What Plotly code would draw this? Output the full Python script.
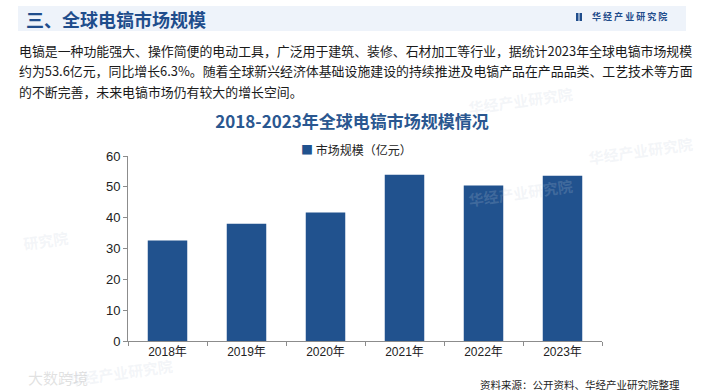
import plotly.graph_objects as go

years = ["2018年", "2019年", "2020年", "2021年", "2022年", "2023年"]
market_size = [32.6, 38.0, 41.7, 53.9, 50.4, 53.6]
series_name = "市场规模（亿元）"

header_title = "三、全球电镐市场规模"
brand = "华 经 产 业 研 究 院"
chart_title = "2018-2023年全球电镐市场规模情况"
paragraph = [
    "电镐是一种功能强大、操作简便的电动工具，广泛用于建筑、装修、石材加工等行业，据统计2023年全球电镐市场规模",
    "约为53.6亿元，同比增长6.3%。随着全球新兴经济体基础设施建设的持续推进及电镐产品在产品品类、工艺技术等方面",
    "的不断完善，未来电镐市场仍有较大的增长空间。",
]
source = "资料来源：公开资料、华经产业研究院整理"

W, H = 705, 392
L, R, T, B = 128, 602, 156, 341
CJK = "Noto Sans CJK SC"
LAT = "Liberation Sans, Noto Sans CJK SC"
BAR = "#21528e"

def px(x):
    return (x - L) / (R - L)

def py(y):
    return (B - y) / (B - T)

fig = go.Figure()
fig.add_trace(go.Bar(
    x=years, y=market_size, name=series_name,
    marker=dict(color=BAR, line=dict(width=0)),
    width=0.5, showlegend=False,
))

annotations = []
# faint watermarks
wm = [("华经产业研究院", 120, 372, 15), ("华经产业研究院", 520, 100, 15), ("华经产业研究院", 520, 192, 15),
      ("华经产业研究院", 640, 150, 15), ("研究院", 45, 240, 15)]
for t, x, y, s in wm:
    annotations.append(dict(text="<b>" + t + "</b>", x=px(x), y=py(y), xref="paper", yref="paper",
                            xanchor="center", yanchor="middle", showarrow=False, textangle=-8,
                            font=dict(family=CJK, size=s, color="rgba(195,205,220,0.2)")))
annotations.append(dict(text="大数跨境", x=px(58), y=py(377), xref="paper", yref="paper",
                        xanchor="center", yanchor="middle", showarrow=False,
                        font=dict(family=CJK, size=15, color="rgba(170,170,170,0.35)")))
# header title
annotations.append(dict(text="<b>" + header_title + "</b>", x=px(24), y=py(19), xref="paper", yref="paper",
                        xanchor="left", yanchor="middle", showarrow=False,
                        font=dict(family=CJK, size=18, color="#1f4d8c")))
annotations.append(dict(text="<b>" + brand + "</b>", x=px(590), y=py(17), xref="paper", yref="paper",
                        xanchor="left", yanchor="middle", showarrow=False,
                        font=dict(family=CJK, size=9, color="#1f4d8c")))
for i, line in enumerate(paragraph):
    annotations.append(dict(text=line, x=px(17), y=py(50 + 20.5 * i), xref="paper", yref="paper",
                            xanchor="left", yanchor="middle", showarrow=False,
                            font=dict(family=CJK, size=12.9, color="#1a1a1a")))
# legend (manual)
annotations.append(dict(text="<span style='color:%s'>■</span> %s" % (BAR, series_name), x=px(299), y=py(149),
                        xref="paper", yref="paper", xanchor="left", yanchor="middle", showarrow=False,
                        font=dict(family=CJK, size=12, color="#222222")))
annotations.append(dict(text=source, x=px(682), y=py(384), xref="paper", yref="paper",
                        xanchor="right", yanchor="middle", showarrow=False,
                        font=dict(family=CJK, size=10.5, color="#222222")))

shapes = [
    dict(type="rect", xref="paper", yref="paper", x0=px(18), x1=px(686), y0=py(31), y1=py(6),
         fillcolor="#eef3fa", line=dict(width=0), layer="below"),
    dict(type="rect", xref="paper", yref="paper", x0=px(576), x1=px(578.5), y0=py(21), y1=py(13),
         fillcolor="#1f4d8c", line=dict(width=0)),
    dict(type="rect", xref="paper", yref="paper", x0=px(579.5), x1=px(582), y0=py(21), y1=py(13),
         fillcolor="#1f4d8c", line=dict(width=0)),
]

fig.update_layout(
    width=W, height=H,
    margin=dict(l=L, r=W - R, t=T, b=H - B, pad=0),
    paper_bgcolor="white", plot_bgcolor="white",
    title=dict(text="<b>" + chart_title + "</b>", x=352 / W, y=1 - 122 / H, xanchor="center", yanchor="middle",
               font=dict(family=CJK, size=17, color="#2a5790")),
    showlegend=False,
    bargap=0.5,
    xaxis=dict(showline=True, linecolor="#8c8c8c", linewidth=1, ticks="outside", tickson="boundaries",
               ticklen=4, tickcolor="#8c8c8c", showgrid=False,
               tickfont=dict(family=LAT, size=12, color="#222222")),
    yaxis=dict(range=[0, 60], dtick=10, showline=True, linecolor="#8c8c8c", linewidth=1,
               ticks="outside", ticklen=4, tickcolor="#8c8c8c", showgrid=False, zeroline=False,
               tickfont=dict(family=LAT, size=13, color="#222222")),
    annotations=annotations, shapes=shapes,
)

fig.write_html("out.html", config={"displayModeBar": False},
               post_script="document.body.style.margin='0';document.body.style.overflow='hidden';")
